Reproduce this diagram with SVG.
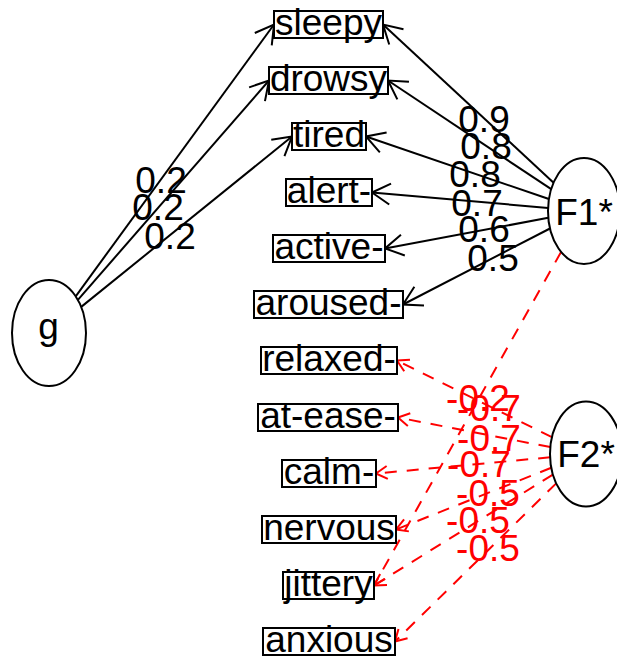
<svg xmlns="http://www.w3.org/2000/svg" width="617" height="659" viewBox="0 0 617 659">
<style>
  .box rect { fill: #fff; stroke: #000; stroke-width: 2; }
  .box text, .node text { font-family: "Liberation Sans", Arial, sans-serif; font-size: 37px; fill: #000; text-anchor: middle; }
  .node ellipse { fill: #fff; stroke: #000; stroke-width: 2; }
  .e { fill: none; stroke: #000; stroke-width: 2; marker-end: url(#ah); }
  .n { fill: none; stroke: #f00; stroke-width: 2; stroke-dasharray: 12 10; marker-end: url(#ahr); }
  .lb { font-family: "Liberation Sans", Arial, sans-serif; font-size: 37px; fill: #000; text-anchor: middle; }
  .lr { font-family: "Liberation Sans", Arial, sans-serif; font-size: 37px; fill: #f00; text-anchor: middle; }
</style>
<defs>
  <marker id="ah" markerUnits="userSpaceOnUse" orient="auto" refX="0" refY="0" markerWidth="1" markerHeight="1" style="overflow:visible">
    <path d="M-18.2,-10.5 L0,0 L-18.2,10.5" fill="none" stroke="#000" stroke-width="2"/>
  </marker>
  <marker id="ahr" markerUnits="userSpaceOnUse" orient="auto" refX="0" refY="0" markerWidth="1" markerHeight="1" style="overflow:visible">
    <line x1="0" y1="0" x2="-18.2" y2="-10.5" stroke="#f00" stroke-width="2" stroke-dasharray="13 10"/>
    <line x1="0" y1="0" x2="-18.2" y2="10.5" stroke="#f00" stroke-width="2" stroke-dasharray="13 10"/>
  </marker>
</defs>
<rect width="617" height="659" fill="#fff"/>

<g id="edges">
  <line class="e" x1="75.7" y1="296.3" x2="274" y2="24.5"/>
  <line class="e" x1="77.9" y1="299.9" x2="269" y2="80.5"/>
  <line class="e" x1="81.2" y1="306.9" x2="292" y2="136.5"/>
  <line class="e" x1="553.6" y1="182.7" x2="383" y2="24.5"/>
  <line class="e" x1="551.2" y1="189.2" x2="388" y2="80.5"/>
  <line class="e" x1="548.9" y1="199" x2="366" y2="136.5"/>
  <line class="e" x1="548.1" y1="207.9" x2="372" y2="192.5"/>
  <line class="e" x1="548.3" y1="217.8" x2="385" y2="248.5"/>
  <line class="e" x1="550" y1="228.5" x2="403" y2="304.5"/>
  <line class="n" x1="561.1" y1="251.9" x2="374" y2="585.5"/>
  <line class="n" x1="551.9" y1="437.2" x2="397" y2="360.5"/>
  <line class="n" x1="550.3" y1="447.1" x2="398" y2="417.5"/>
  <line class="n" x1="550.1" y1="457.3" x2="376" y2="473.5"/>
  <line class="n" x1="551.3" y1="467.8" x2="396" y2="529.5"/>
  <line class="n" x1="552.9" y1="474.6" x2="374" y2="585.5"/>
  <line class="n" x1="556.2" y1="483.4" x2="395" y2="641.5"/>
  <text class="lb" x="161" y="193">0.2</text>
  <text class="lb" x="158" y="220">0.2</text>
  <text class="lb" x="170" y="249">0.2</text>
  <text class="lb" x="484" y="132">0.9</text>
  <text class="lb" x="486" y="159">0.8</text>
  <text class="lb" x="475" y="187">0.8</text>
  <text class="lb" x="477" y="215.5">0.7</text>
  <text class="lb" x="484" y="242">0.6</text>
  <text class="lb" x="493" y="271">0.5</text>
  <text class="lr" x="478" y="411">-0.2</text>
  <text class="lr" x="489" y="421">-0.7</text>
  <text class="lr" x="489" y="450.5">-0.7</text>
  <text class="lr" x="479" y="477">-0.7</text>
  <text class="lr" x="488" y="506">-0.5</text>
  <text class="lr" x="478" y="533">-0.5</text>
  <text class="lr" x="488" y="561">-0.5</text>
</g>

<g id="sleepy" class="box"><rect x="274" y="11" width="109" height="27"/><text x="328.5" y="35">sleepy</text></g>
<g id="drowsy" class="box"><rect x="269" y="67" width="119" height="27"/><text x="328.5" y="91">drowsy</text></g>
<g id="tired" class="box"><rect x="292" y="123" width="74" height="27"/><text x="329" y="147">tired</text></g>
<g id="alert" class="box"><rect x="286" y="179" width="86" height="27"/><text x="329" y="203">alert-</text></g>
<g id="active" class="box"><rect x="273" y="235" width="112" height="27"/><text x="329" y="259">active-</text></g>
<g id="aroused" class="box"><rect x="254" y="291" width="149" height="27"/><text x="328.5" y="315">aroused-</text></g>
<g id="relaxed" class="box"><rect x="261" y="347" width="136" height="27"/><text x="329" y="371">relaxed-</text></g>
<g id="at-ease" class="box"><rect x="258" y="404" width="140" height="27"/><text x="328" y="428">at-ease-</text></g>
<g id="calm" class="box"><rect x="282" y="460" width="94" height="27"/><text x="329" y="484">calm-</text></g>
<g id="nervous" class="box"><rect x="262" y="516" width="134" height="27"/><text x="329" y="540">nervous</text></g>
<g id="jittery" class="box"><rect x="283" y="572" width="91" height="27"/><text x="328.5" y="596">jittery</text></g>
<g id="anxious" class="box"><rect x="263" y="628" width="132" height="27"/><text x="329" y="652">anxious</text></g>

<g id="g" class="node"><ellipse cx="49" cy="333" rx="37" ry="53"/><text x="48.5" y="338.5">g</text></g>
<g id="F1" class="node"><ellipse cx="584" cy="211" rx="36" ry="53"/><text x="584" y="225">F1*</text></g>
<g id="F2" class="node"><ellipse cx="586" cy="454" rx="36" ry="52.5"/><text x="586" y="467">F2*</text></g>
</svg>
